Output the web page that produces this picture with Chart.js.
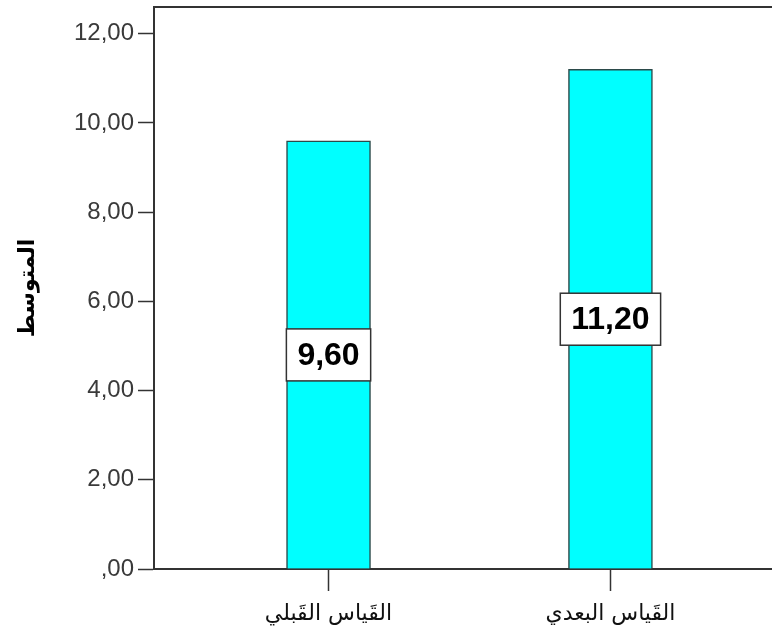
<!DOCTYPE html>
<html>
<head>
<meta charset="utf-8">
<script src="https://cdn.jsdelivr.net/npm/chart.js@4/dist/chart.umd.min.js"></script>
<style>
  html, body { margin: 0; padding: 0; background: #fff; }
  #wrap { width: 772px; height: 636px; }
</style>
</head>
<body>
<div id="wrap"><canvas id="meanChart"></canvas></div>
<script>
// data
const categories = ['القَياس القَبلي', 'القَياس البعدي'];
const means = [9.60, 11.20];
const yTicks = [0, 2, 4, 6, 8, 10, 12];
const yTitle = 'المتوسط';

// SPSS style numbers: 9,60 / ,00
function spssNum(v) {
  if (v === 0) return ',00';
  return v.toFixed(2).replace('.', ',');
}

// white boxed value in the middle of each bar + top frame line
const frameAndLabels = {
  id: 'frameAndLabels',
  afterDatasetsDraw(chart) {
    const c = chart.ctx;
    const a = chart.chartArea;
    c.save();
    c.strokeStyle = '#333';
    c.lineWidth = 2;
    c.beginPath();
    c.moveTo(a.left, a.top);
    c.lineTo(a.right, a.top);
    c.stroke();

    const meta = chart.getDatasetMeta(0);
    c.font = 'bold 32px "Liberation Sans", Arial, sans-serif';
    c.textAlign = 'center';
    c.textBaseline = 'middle';
    meta.data.forEach((bar, i) => {
      const txt = spssNum(means[i]);
      const mid = chart.scales.y.getPixelForValue(means[i] / 2);
      const w = c.measureText(txt).width + 22;
      const h = 52;
      c.fillStyle = '#fff';
      c.fillRect(bar.x - w / 2, mid - h / 2, w, h);
      c.strokeStyle = '#333';
      c.lineWidth = 1.5;
      c.strokeRect(bar.x - w / 2, mid - h / 2, w, h);
      c.fillStyle = '#000';
      c.fillText(txt, bar.x, mid + 1);
    });
    c.restore();
  }
};

const ctx = document.getElementById('meanChart').getContext('2d');
const meanChart = new Chart(ctx, {
  type: 'bar',
  data: {
    datasets: [{
      data: categories.map((c, i) => ({ x: i + 1, y: means[i] })),
      backgroundColor: '#00FFFF',
      borderColor: '#2b4a4a',
      borderWidth: 1.5,
      barThickness: 84
    }]
  },
  options: {
    responsive: true,
    maintainAspectRatio: false,
    animation: false,
    layout: { padding: { top: 7, right: 0, bottom: 0, left: 15 } },
    plugins: {
      legend: { display: false },
      tooltip: { enabled: false }
    },
    scales: {
      x: {
        type: 'linear',
        offset: false,
        min: 0.381,
        max: 2.573,
        afterBuildTicks: (scale) => {
          scale.ticks = categories.map((c, i) => ({ value: i + 1 }));
        },
        afterFit: (scale) => {
          scale.height = 67;
          scale.paddingLeft = 0;
          scale.paddingRight = 0;
        },
        grid: { offset: false, drawOnChartArea: false, drawTicks: true, tickLength: 22, color: '#333', tickWidth: 1.5 },
        border: { display: true, color: '#333', width: 2 },
        ticks: {
          padding: 10,
          color: '#111',
          maxRotation: 0,
          font: { size: 22, family: '"DejaVu Sans", sans-serif' },
          callback: (v) => categories[v - 1] || ''
        }
      },
      y: {
        min: 0,
        max: 12.6,
        afterBuildTicks: (scale) => {
          scale.ticks = yTicks.map(v => ({ value: v }));
        },
        afterFit: (scale) => {
          scale.width = 139;
          scale.paddingTop = 0;
          scale.paddingBottom = 0;
        },
        grid: { drawOnChartArea: false, drawTicks: true, tickLength: 16, color: '#333', tickWidth: 1.5 },
        border: { display: true, color: '#333', width: 2 },
        ticks: {
          padding: 4,
          color: '#3a3a3a',
          font: { size: 24, family: '"Liberation Sans", Arial, sans-serif' },
          callback: (v) => spssNum(v)
        },
        title: {
          display: true,
          text: yTitle,
          color: '#000',
          padding: { top: 0, bottom: 0 },
          font: { size: 22, weight: 'bold', family: '"DejaVu Sans", sans-serif' }
        }
      }
    }
  },
  plugins: [frameAndLabels]
});
</script>
</body>
</html>
